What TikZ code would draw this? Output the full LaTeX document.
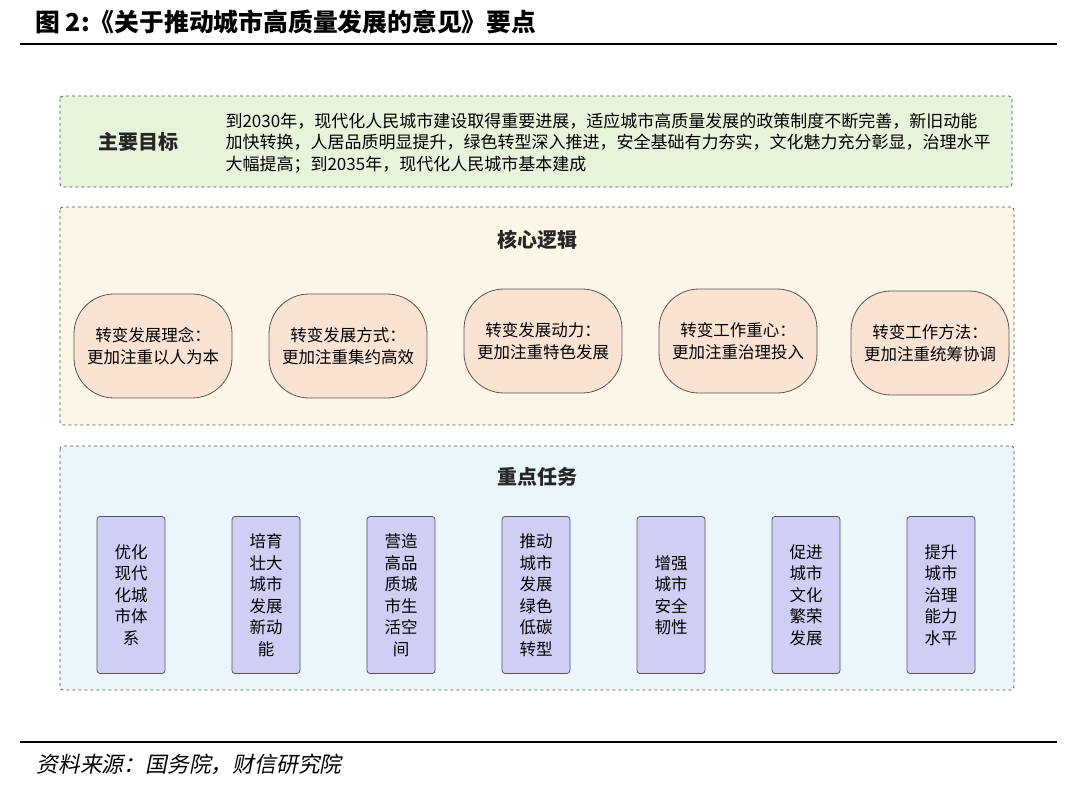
\documentclass[tikz,border=0pt]{standalone}
\usepackage{fontspec}
\setmainfont{Noto Sans CJK SC}
\newfontfamily\slantcjk[FakeSlant=0.2]{Noto Sans CJK SC}
\usetikzlibrary{positioning,shapes.misc}
\definecolor{boxline}{HTML}{555555}
\definecolor{goalfill}{HTML}{E8F3DC}
\definecolor{logicfill}{HTML}{FDF6E7}
\definecolor{taskfill}{HTML}{EAF6FB}
\definecolor{pillfill}{HTML}{FBE3D4}
\definecolor{barfill}{HTML}{CFCFF5}

\begin{document}
\begin{tikzpicture}[x=1pt,y=-1pt,
    panel/.style={draw=boxline, dashed, thick, rounded corners=3pt},
    heading/.style={font=\fontsize{20}{20}\selectfont\bfseries, text=black!85},
    pill/.style={draw=boxline, thick, fill=pillfill, rounded corners=40pt, minimum width=158pt, minimum height=104pt, align=center, font=\fontsize{16.5}{22}\selectfont},
    bar/.style={draw=boxline, thick, fill=barfill, rounded corners=3pt, minimum width=68pt, minimum height=157pt, align=center, font=\fontsize{16.5}{21.5}\selectfont}
]
    \useasboundingbox (0,0) rectangle (1080,792);

    % Title
    \node[anchor=west, font=\fontsize{24.8}{25}\selectfont\bfseries] (title) at (32,22) {图 2:《关于推动城市高质量发展的意见》要点};
    \draw[line width=2.5pt] (20,44) -- (1057,44);

    % Goals
    \draw[panel, fill=goalfill] (60,96) rectangle (1012,187);
    \node[heading] (goal) at (138,142) {主要目标};
    \node[anchor=west, align=left, font=\fontsize{17}{21.5}\selectfont] (goaltext) at (222,143)
        {到2030年，现代化人民城市建设取得重要进展，适应城市高质量发展的政策制度不断完善，新旧动能\\
         加快转换，人居品质明显提升，绿色转型深入推进，安全基础有力夯实，文化魅力充分彰显，治理水平\\
         大幅提高；到2035年，现代化人民城市基本建成};

    % Core logic
    \draw[panel, fill=logicfill] (60,207) rectangle (1014,425);
    \node[heading] (logic) at (537,240) {核心逻辑};
    \node[pill] (l1) at (153,346) {转变发展理念：\\更加注重以人为本};
    \node[pill] (l2) at (348,346) {转变发展方式：\\更加注重集约高效};
    \node[pill] (l3) at (543,341) {转变发展动力：\\更加注重特色发展};
    \node[pill] (l4) at (738,341) {转变工作重心：\\更加注重治理投入};
    \node[pill] (l5) at (930,343) {转变工作方法：\\更加注重统筹协调};

    % Key tasks
    \draw[panel, fill=taskfill] (60,446) rectangle (1014,690);
    \node[heading] (task) at (537,477) {重点任务};
    \node[bar] (t1) at (131,595) {优化\\现代\\化城\\市体\\系};
    \node[bar] (t2) at (266,595) {培育\\壮大\\城市\\发展\\新动\\能};
    \node[bar] (t3) at (401,595) {营造\\高品\\质城\\市生\\活空\\间};
    \node[bar] (t4) at (536,595) {推动\\城市\\发展\\绿色\\低碳\\转型};
    \node[bar] (t5) at (671,595) {增强\\城市\\安全\\韧性};
    \node[bar] (t6) at (806,595) {促进\\城市\\文化\\繁荣\\发展};
    \node[bar] (t7) at (941,595) {提升\\城市\\治理\\能力\\水平};

    % Source
    \draw[line width=1.5pt] (20,742) -- (1057,742);
    \node[anchor=west, font=\fontsize{21.8}{22}\selectfont\slantcjk] (source) at (33,764) {资料来源：国务院，财信研究院};
\end{tikzpicture}
\end{document}
